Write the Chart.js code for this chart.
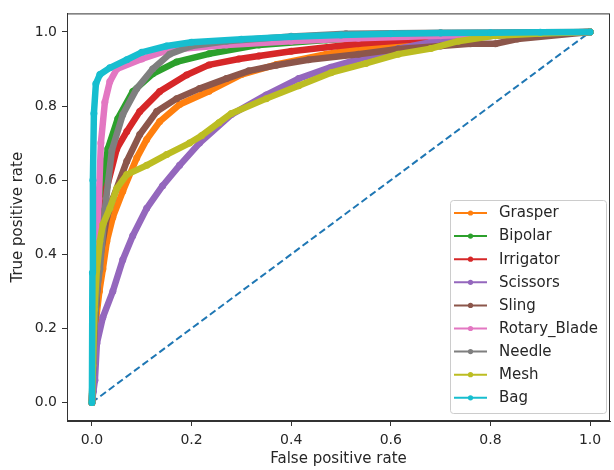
<!DOCTYPE html>
<html lang="en">
<head>
    <meta charset="UTF-8">
    <title>ROC curves</title>
    <script src="https://cdn.jsdelivr.net/npm/chart.js"></script>
    <style>
        body {
            margin: 0;
            padding: 0;
            background: #ffffff;
        }

        .chart-container {
            width: 614px;
            height: 470px;
        }
    </style>
</head>
<body>
    <div class="chart-container">
        <canvas id="rocChart" width="614" height="470"></canvas>
    </div>

    <script>
        // Classes, in plotting order
        const classes = ['Grasper', 'Bipolar', 'Irrigator', 'Scissors', 'Sling', 'Rotary_Blade', 'Needle', 'Mesh', 'Bag'];

        // ROC points (false positive rate / true positive rate)
        const fprGrasper = [0, 0.003, 0.008, 0.015, 0.022, 0.03, 0.042, 0.062, 0.09, 0.11, 0.136, 0.176, 0.235, 0.30, 0.37, 0.47, 0.55, 0.65, 0.8, 1];
        const tprGrasper = [0, 0.1, 0.22, 0.3, 0.36, 0.435, 0.5, 0.57, 0.66, 0.71, 0.758, 0.804, 0.84, 0.885, 0.912, 0.94, 0.958, 0.975, 0.99, 1];

        const fprBipolar = [0, 0.004, 0.01, 0.02, 0.032, 0.052, 0.082, 0.122, 0.17, 0.235, 0.335, 0.47, 0.6, 0.75, 1];
        const tprBipolar = [0, 0.25, 0.42, 0.58, 0.685, 0.766, 0.839, 0.887, 0.919, 0.941, 0.965, 0.978, 0.988, 0.995, 1];

        const fprIrrigator = [0, 0.005, 0.015, 0.03, 0.05, 0.07, 0.096, 0.136, 0.19, 0.235, 0.295, 0.335, 0.40, 0.535, 0.65, 0.8, 1];
        const tprIrrigator = [0, 0.2, 0.4, 0.58, 0.685, 0.731, 0.785, 0.839, 0.884, 0.911, 0.927, 0.935, 0.948, 0.968, 0.98, 0.992, 1];

        const fprScissors = [0, 0.003, 0.006, 0.01, 0.022, 0.042, 0.062, 0.082, 0.11, 0.142, 0.176, 0.216, 0.28, 0.35, 0.415, 0.48, 0.55, 0.615, 0.68, 0.81, 0.9, 1];
        const tprScissors = [0, 0.03, 0.06, 0.16, 0.23, 0.3, 0.385, 0.45, 0.524, 0.585, 0.64, 0.70, 0.777, 0.83, 0.874, 0.905, 0.932, 0.955, 0.972, 0.99, 0.997, 1];

        const fprSling = [0, 0.005, 0.015, 0.03, 0.042, 0.07, 0.096, 0.13, 0.17, 0.216, 0.27, 0.315, 0.37, 0.435, 0.535, 0.615, 0.7, 0.76, 0.81, 0.854, 1];
        const tprSling = [0, 0.2, 0.38, 0.5, 0.55, 0.651, 0.723, 0.785, 0.82, 0.847, 0.874, 0.895, 0.91, 0.925, 0.94, 0.954, 0.962, 0.968, 0.968, 0.981, 1];

        const fprRotary = [0, 0.004, 0.008, 0.014, 0.018, 0.026, 0.036, 0.05, 0.1, 0.156, 0.27, 0.4, 0.535, 0.7, 0.85, 1];
        const tprRotary = [0, 0.2, 0.36, 0.55, 0.7, 0.81, 0.866, 0.9, 0.927, 0.952, 0.965, 0.975, 0.983, 0.99, 0.996, 1];

        const fprNeedle = [0, 0.005, 0.01, 0.016, 0.026, 0.04, 0.062, 0.09, 0.122, 0.156, 0.2, 0.27, 0.4, 0.51, 0.7, 1];
        const tprNeedle = [0, 0.2, 0.3, 0.36, 0.52, 0.68, 0.777, 0.847, 0.9, 0.94, 0.962, 0.975, 0.988, 0.995, 0.998, 1];

        const fprMesh = [0, 0.002, 0.005, 0.01, 0.016, 0.022, 0.036, 0.05, 0.07, 0.11, 0.15, 0.196, 0.22, 0.255, 0.28, 0.35, 0.415, 0.48, 0.55, 0.615, 0.68, 0.735, 0.81, 0.9, 1];
        const tprMesh = [0, 0.1, 0.25, 0.36, 0.435, 0.48, 0.524, 0.578, 0.615, 0.64, 0.669, 0.70, 0.72, 0.755, 0.78, 0.82, 0.855, 0.89, 0.915, 0.94, 0.955, 0.975, 0.99, 0.996, 1];

        const fprBag = [0, 0.001, 0.002, 0.004, 0.008, 0.016, 0.036, 0.07, 0.10, 0.15, 0.2, 0.3, 0.4, 0.5, 0.6, 0.7, 0.8, 0.9, 1];
        const tprBag = [0, 0.35, 0.6, 0.78, 0.86, 0.885, 0.903, 0.925, 0.945, 0.962, 0.972, 0.98, 0.987, 0.992, 0.995, 0.997, 0.998, 0.999, 1];

        // chance line
        const fprChance = [0, 1];
        const tprChance = [0, 1];

        const xTicks = [0, 0.2, 0.4, 0.6, 0.8, 1.0];
        const yTicks = [0, 0.2, 0.4, 0.6, 0.8, 1.0];

        const fprAll = [fprGrasper, fprBipolar, fprIrrigator, fprScissors, fprSling, fprRotary, fprNeedle, fprMesh, fprBag];
        const tprAll = [tprGrasper, tprBipolar, tprIrrigator, tprScissors, tprSling, tprRotary, tprNeedle, tprMesh, tprBag];

        // matplotlib tab10 colours, C1..C9 (C0 is the dashed line)
        const colors = ['#ff7f0e', '#2ca02c', '#d62728', '#9467bd', '#8c564b', '#e377c2', '#7f7f7f', '#bcbd22', '#17becf'];
        const chanceColor = '#1f77b4';

        const FONT = "'DejaVu Sans', sans-serif";
        const TEXT = '#262626';
        const SPINE = '#333333';

        function toPoints(xs, ys) {
            return xs.map((x, i) => ({ x: x, y: ys[i] }));
        }

        const datasets = classes.map((name, i) => ({
            label: name,
            data: toPoints(fprAll[i], tprAll[i]),
            borderColor: colors[i],
            backgroundColor: colors[i],
            pointBackgroundColor: colors[i],
            borderWidth: 6.5,
            pointRadius: 3.5,
            pointBorderWidth: 0,
            borderJoinStyle: 'round',
            borderCapStyle: 'round',
            tension: 0,
            fill: false,
            order: classes.length - i   // later classes on top, like matplotlib
        }));

        datasets.push({
            label: 'chance',
            data: toPoints(fprChance, tprChance),
            borderColor: chanceColor,
            borderWidth: 2,
            borderDash: [7, 3.5],
            pointRadius: 0,
            fill: false,
            order: 100
        });

        // full box round the plot area
        const frame = {
            id: 'frame',
            afterDatasetsDraw(chart) {
                const { ctx, chartArea: a } = chart;
                ctx.save();
                ctx.strokeStyle = SPINE;
                ctx.lineWidth = 1;
                ctx.strokeRect(a.left + 0.5, a.top + 0.5, a.right - a.left - 1, a.bottom - a.top - 1);
                ctx.restore();
            }
        };

        // matplotlib style legend: line with a dot, in a rounded box at the lower right
        const rocLegend = {
            id: 'rocLegend',
            afterDraw(chart) {
                const { ctx, chartArea: a } = chart;
                const w = 156, h = 213;
                const left = a.right - 4 - w;
                const top = a.bottom - 8 - h;
                ctx.save();
                ctx.fillStyle = 'rgba(255,255,255,0.8)';
                ctx.strokeStyle = '#cccccc';
                ctx.lineWidth = 1;
                ctx.beginPath();
                if (ctx.roundRect) {
                    ctx.roundRect(left + 0.5, top + 0.5, w, h, 3);
                } else {
                    ctx.rect(left + 0.5, top + 0.5, w, h);
                }
                ctx.fill();
                ctx.stroke();

                ctx.font = '15px ' + FONT;
                ctx.textBaseline = 'middle';
                ctx.textAlign = 'left';
                classes.forEach((name, i) => {
                    const y = top + 13 + i * 23.1;
                    ctx.strokeStyle = colors[i];
                    ctx.lineWidth = 2;
                    ctx.beginPath();
                    ctx.moveTo(left + 4, y);
                    ctx.lineTo(left + 37, y);
                    ctx.stroke();
                    ctx.fillStyle = colors[i];
                    ctx.beginPath();
                    ctx.arc(left + 20.5, y, 2.6, 0, Math.PI * 2);
                    ctx.fill();
                    ctx.fillStyle = TEXT;
                    ctx.fillText(name, left + 49, y + 0.5);
                });
                ctx.restore();
            }
        };

        const ctx = document.getElementById('rocChart').getContext('2d');
        const chart = new Chart(ctx, {
            type: 'line',
            data: { datasets: datasets },
            options: {
                responsive: false,
                animation: false,
                layout: {
                    padding: { top: 11, right: 2, left: 0, bottom: 0 }
                },
                scales: {
                    x: {
                        type: 'linear',
                        min: -0.05,
                        max: 1.04,
                        afterBuildTicks: (s) => { s.ticks = xTicks.map(v => ({ value: v })); },
                        afterFit: (s) => { s.height = 49; },
                        ticks: {
                            callback: (v) => Number(v).toFixed(1),
                            color: TEXT,
                            font: { family: FONT, size: 14 },
                            padding: 6,
                            maxRotation: 0
                        },
                        grid: {
                            drawOnChartArea: false,
                            tickLength: 5,
                            tickColor: SPINE
                        },
                        border: { display: true, color: SPINE },
                        title: {
                            display: true,
                            text: 'False positive rate',
                            color: TEXT,
                            font: { family: FONT, size: 15 },
                            padding: { top: 0, bottom: 2 }
                        }
                    },
                    y: {
                        type: 'linear',
                        min: -0.05,
                        max: 1.05,
                        afterBuildTicks: (s) => { s.ticks = yTicks.map(v => ({ value: v })); },
                        afterFit: (s) => { s.width = 67; },
                        ticks: {
                            callback: (v) => Number(v).toFixed(1),
                            color: TEXT,
                            font: { family: FONT, size: 14 },
                            padding: 5
                        },
                        grid: {
                            drawOnChartArea: false,
                            tickLength: 5,
                            tickColor: SPINE
                        },
                        border: { display: true, color: SPINE },
                        title: {
                            display: true,
                            text: 'True positive rate',
                            color: TEXT,
                            font: { family: FONT, size: 15 },
                            padding: { top: 9, bottom: 0 }
                        }
                    }
                },
                plugins: {
                    legend: { display: false },
                    tooltip: { enabled: false }
                }
            },
            plugins: [frame, rocLegend]
        });
    </script>
</body>
</html>
